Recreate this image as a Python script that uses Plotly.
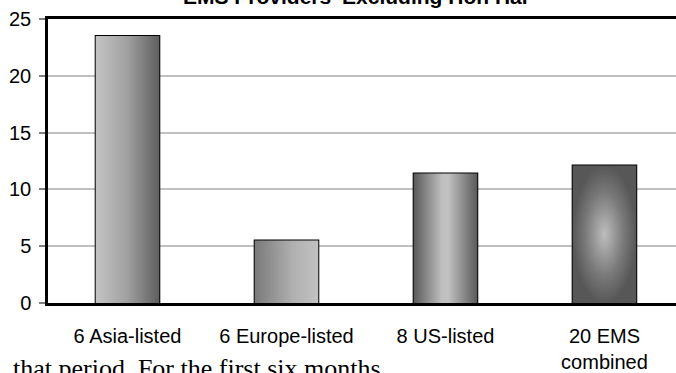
import plotly.graph_objects as go

categories = ["6 Asia-listed", "6 Europe-listed", "8 US-listed", "20 EMS<br>combined"]
values = [23.5, 5.5, 11.4, 12.1]
y_ticks = [0, 5, 10, 15, 20, 25]
title_text = "EMS Providers' Excluding Hon Hai"
body_text = "that period. For the first six months"

gradients = [
    dict(type="horizontal", colorscale=[[0, "#c4c4c4"], [0.5, "#a0a0a0"], [1, "#5e5e5e"]]),
    dict(type="horizontal", colorscale=[[0, "#7a7a7a"], [0.6, "#b0b0b0"], [1, "#c2c2c2"]]),
    dict(type="horizontal", colorscale=[[0, "#5a5a5a"], [0.45, "#c0c0c0"], [0.55, "#c0c0c0"], [1, "#5a5a5a"]]),
    dict(type="radial", colorscale=[[0, "#bdbdbd"], [0.6, "#7a7a7a"], [1, "#575757"]]),
]

BW = 0.4
xs = list(range(len(categories)))

fig = go.Figure()
for i, v in enumerate(values):
    fig.add_trace(go.Scatter(
        x=[xs[i] - BW / 2, xs[i] + BW / 2, xs[i] + BW / 2, xs[i] - BW / 2, xs[i] - BW / 2],
        y=[0, 0, v, v, 0],
        mode="lines", line=dict(width=0), fill="toself",
        fillgradient=gradients[i], hoverinfo="skip", showlegend=False,
    ))

fig.add_trace(go.Bar(
    x=xs, y=values, width=BW,
    marker=dict(color="rgba(0,0,0,0)", line=dict(color="#000000", width=2)),
    showlegend=False,
))

fig.update_layout(
    width=676, height=373,
    margin=dict(l=48, r=0, t=19, b=70),
    paper_bgcolor="white", plot_bgcolor="white",
    font=dict(family="Liberation Sans, Arial, sans-serif", color="#000000"),
    xaxis=dict(
        range=[-0.5, 3.45], tickvals=xs, ticktext=categories,
        tickfont=dict(size=20), ticks="outside", ticklen=13, tickcolor="rgba(0,0,0,0)",
        showline=True, linecolor="#000000", linewidth=2.5, mirror=True,
        showgrid=False, zeroline=False,
    ),
    yaxis=dict(
        range=[0, 25], tickvals=y_ticks, tickfont=dict(size=20),
        ticks="outside", ticklen=6, tickcolor="#808080", tickwidth=1.5,
        showline=True, linecolor="#000000", linewidth=2.5,
        showgrid=True, gridcolor="#c0c0c0", gridwidth=2, zeroline=False,
        ticklabelstandoff=4,
    ),
    annotations=[
        dict(text="<b>" + title_text + "</b>", xref="paper", yref="paper", x=0.49, y=1,
             xanchor="center", yanchor="middle", yshift=23, showarrow=False,
             font=dict(size=21, family="Liberation Sans, Arial, sans-serif")),
        dict(text=body_text, xref="paper", yref="paper", x=0, y=0, xanchor="left",
             yanchor="middle", xshift=-37, yshift=-65, showarrow=False,
             font=dict(size=26, family="Liberation Serif, Times New Roman, serif")),
    ],
)

fig.write_html("out.html")
